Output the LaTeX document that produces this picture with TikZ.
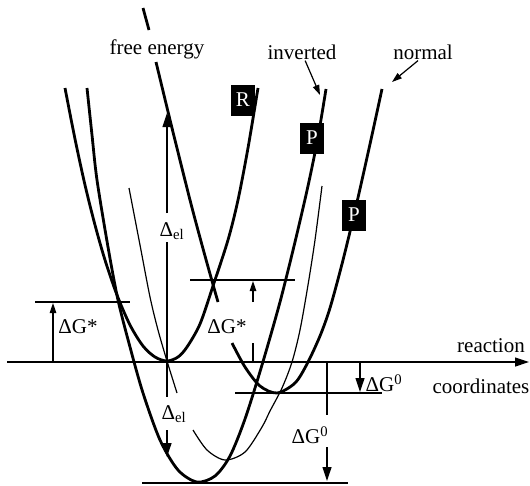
\documentclass[tikz,border=0pt]{standalone}
\usepackage{fontspec}
\setmainfont{Liberation Serif}
\usetikzlibrary{arrows.meta,positioning,calc}

\begin{document}
\begin{tikzpicture}[
  x=1pt,y=-1pt,
  font=\fontsize{21}{25}\selectfont,
  inner sep=1pt,
  curve/.style={line width=2.8pt},
  thincurve/.style={line width=1.2pt},
  level/.style={line width=2.6pt},
  guide/.style={line width=1.2pt},
  arr/.style={guide,-{Triangle[length=14pt,width=9pt]}},
  sarr/.style={guide,-{Triangle[length=10pt,width=6.5pt]}},
  tag/.style={fill=black,text=white,inner sep=0pt,
    minimum width=24pt,minimum height=31pt}
]
  \useasboundingbox (0,0) rectangle (530,485);

  \coordinate (Rmin) at (167,361);
  \coordinate (axL) at (7,362);
  \coordinate (axR) at (529,362);
  \coordinate (lvI) at (142,483);
  \coordinate (lvN) at (235,393);
  \coordinate (lvL) at (35,302);
  \coordinate (lvR) at (190,280);

  % reactant
  \draw[curve] plot[smooth] coordinates {(65,88) (75,139) (85,185) (95,225)
    (105,260) (117,295) (130,325) (143,346) (155,357) (167,361) (178,357)
    (187,347) (200,324) (213,286) (228,240) (238,200) (248,148) (258,88)};
  % product, inverted
  \draw[curve] plot[smooth] coordinates {(87,88) (92,135) (97,180) (108,247)
    (118,300) (130,347) (143,393) (160,440) (178,470) (197,482) (215,476)
    (230,456) (245,419) (262,365) (280,302) (295,242) (308,186) (318,137)
    (326,89)};
  % product, normal
  \draw[curve] (143,8) -- (149,30);
  \draw[curve] plot[smooth] coordinates {(156,62) (172,128) (190,200)
    (202,245) (212,281) (218,302)};
  \draw[curve] plot[smooth] coordinates {(232,343) (245,367) (260,386)
    (277,393) (295,383) (307,364) (320,336) (330,308) (342,264) (354,215)
    (362,180) (372,135) (382,89)};
  % thin product
  \draw[thincurve] plot[smooth] coordinates {(129,188) (140,245) (150,297)
    (158,330) (167,361) (177,393)};
  \draw[thincurve] plot[smooth] coordinates {(193,430) (207,450) (225,460)
    (245,452) (262,427) (270,411) (282,388) (292,362) (300,330) (308,285)
    (315,240) (322,186)};

  \draw[level] (lvI) -- ++(206,0);
  \draw[level] (lvN) -- ++(147,0);
  \draw[level] (lvL) -- ++(95,0);
  \draw[level] (lvR) -- ++(105,0);

  \node[tag] (tR) at (243,100) {R};
  \node[tag] (tPi) at (312,138) {P};
  \node[tag] (tPn) at (354,215) {P};

  \node (fe) at (157,49) {free energy};
  \node (inv) at (302,52) {inverted};
  \node (nor) at (423,52) {normal};
  \coordinate (invTip) at (320,95);
  \coordinate (norTip) at (392,82);
  \draw[sarr] (inv.-70) -- (invTip);
  \draw[sarr] (nor.-120) -- (norTip);

  \draw[arr] (axL) -- (axR);
  \node (rea) at (491,346) {reaction};
  \node (coo) at (481,386) {coordinates};

  \node (gsL) at (78,327) {ΔG*};
  \coordinate (dgL) at (53,362);
  \draw[sarr] (dgL) -- ($(dgL |- lvL)+(0,1)$);

  \node (gsR) at (227,327) {ΔG*};
  \coordinate (dgR) at (253,362);
  \draw[guide] (dgR) -- ++(0,-19);
  \draw[sarr] ($(dgR)+(0,-60)$) -- ($(dgR |- lvR)+(0,1)$);

  \node (g0s) at (384,383) {ΔG\textsuperscript{0}};
  \coordinate (d0s) at (360,362);
  \draw[arr] (d0s) -- ($(d0s |- lvN)+(0,-1)$);

  \node (g0b) at (310,435) {ΔG\textsuperscript{0}};
  \coordinate (d0b) at (327,362);
  \draw[guide] (d0b) -- ++(0,53);
  \draw[arr] ($(d0b)+(0,85)$) -- ($(d0b |- lvI)+(0,-2)$);

  \node (elU) at (172,231) {Δ\textsubscript{el}};
  \node (elD) at (174,414) {Δ\textsubscript{el}};
  \coordinate (elTip) at (167,113);
  \coordinate (elBot) at (167,457);
  \draw[guide] (Rmin) -- ++(0,-119);
  \draw[arr] ($(Rmin)+(0,-148)$) -- (elTip);
  \draw[guide] (Rmin) -- ++(0,36);
  \draw[arr] ($(Rmin)+(0,69)$) -- (elBot);
\end{tikzpicture}
\end{document}
